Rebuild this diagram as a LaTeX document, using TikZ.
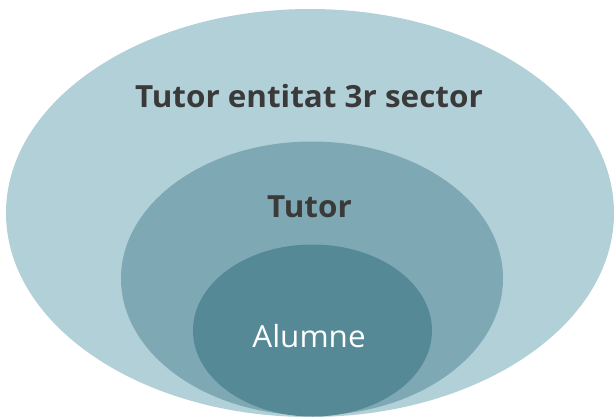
\documentclass[tikz,border=0pt]{standalone}
\usepackage{fontspec}
\setmainfont{Open Sans}
\definecolor{outerc}{RGB}{178,208,216}
\definecolor{midc}{RGB}{127,168,181}
\definecolor{innerc}{RGB}{85,137,150}
\definecolor{txtc}{RGB}{58,58,58}
\begin{document}
\begin{tikzpicture}[x=1pt,y=-1pt,
  lbl/.style={anchor=base,inner sep=0pt,xscale=1.03,font=\fontsize{30.5}{36}\selectfont},
  boldlbl/.style={lbl,text=txtc,font=\fontsize{30.5}{36}\selectfont\bfseries}]
\useasboundingbox (0,0) rectangle (614,416);
\clip (0,0) rectangle (614,416);
\fill[outerc] (310,213) ellipse [x radius=304, y radius=204];
\fill[midc] (312,278.5) ellipse [x radius=191, y radius=137];
\fill[innerc] (312.5,330.5) ellipse [x radius=119.5, y radius=86];
\node[boldlbl] (outer) at (309,107) {Tutor entitat 3r sector};
\node[boldlbl] (mid) at (309.5,217) {Tutor};
\node[lbl,text=white] (inner) at (309,347) {Alumne};
\end{tikzpicture}
\end{document}
